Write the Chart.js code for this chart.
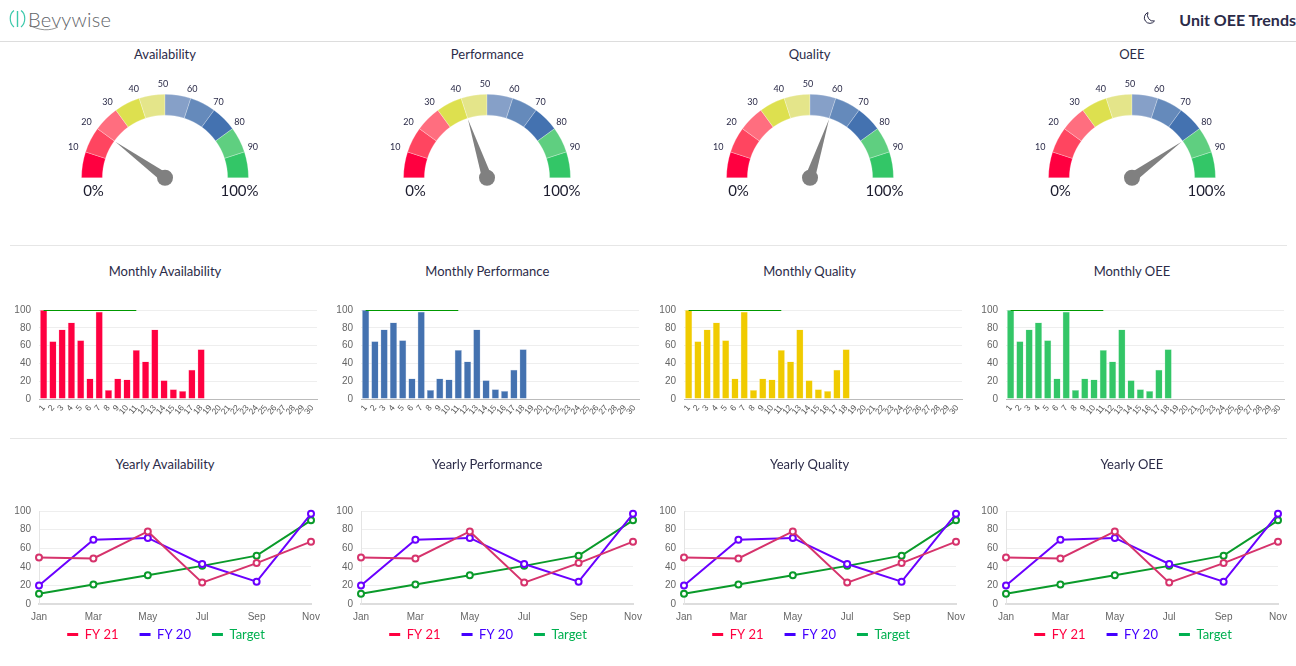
<!DOCTYPE html>
<html>
<head>
<meta charset="utf-8">
<title>Unit OEE Trends</title>
<script src="https://cdn.jsdelivr.net/npm/chart.js@4"></script>
<style>
  html, body { margin: 0; padding: 0; background: #fff; overflow: hidden; }
  body { width: 1296px; height: 666px; position: relative; font-family: Lato, sans-serif; color: #2b2b48; }
  canvas { position: absolute; }
  .title { position: absolute; width: 300px; text-align: center; font-size: 13px; line-height: 18px; }
  .rule { position: absolute; height: 1px; background: #e6e6e6; }
  #logo { position: absolute; left: 28px; top: 7px; font-size: 20px; line-height: 24px; font-family: "Lato"; font-weight: 300; color: #5f6468; letter-spacing: 0.2px; }
  #page { position: absolute; right: 0; top: 10px; font-size: 16px; line-height: 20px; font-weight: 700; white-space: nowrap; }
</style>
</head>
<body>
<svg style="position:absolute;left:8px;top:8px" width="20" height="22" viewBox="0 0 20 22">
  <path d="M6 2.5 C1 6 1 15 6 19 M13 2.5 C18 6 18 15 13 19" fill="none" stroke="#3cc9ab" stroke-width="1.2"/>
  <path d="M9.5 3 V19" stroke="#3cc9ab" stroke-width="1.4"/>
</svg>
<div id="logo">Bevywise</div>
<svg style="position:absolute;left:28px;top:24px" width="60" height="8" viewBox="0 0 60 8">
  <path d="M1 1 C12 7 22 7 30 3" fill="none" stroke="#777" stroke-width="0.8"/>
</svg>
<svg style="position:absolute;left:1143px;top:11px" width="13" height="14" viewBox="0 0 13 14">
  <path d="M5 1.5 A5.6 5.6 0 1 0 11.5 10 A6 6 0 0 1 5 1.5 Z" fill="none" stroke="#2b2b48" stroke-width="1"/>
</svg>
<div id="page">Unit OEE Trends</div>
<div class="rule" style="left:0;top:41px;width:1296px;background:#ddd"></div>
<div class="rule" style="left:10px;top:245px;width:1277px"></div>
<div class="rule" style="left:10px;top:438px;width:1277px"></div>

<script>
// chart data
const gaugeTitles = ["Availability", "Performance", "Quality", "OEE"];
const gaugeValues = [20, 40, 60, 80];
const gaugeBands = [10, 10, 10, 10, 10, 10, 10, 10, 10, 10];
const gaugeTicks = ["10", "20", "30", "40", "50", "60", "70", "80", "90"];
const gaugeColors = ["#ff0040", "#ff4560", "#ff6e7f", "#dde04f", "#e4e58a", "#86a0c8", "#658abb", "#4472b0", "#5fcf80", "#33c667"];

const monthlyTitles = ["Monthly Availability", "Monthly Performance", "Monthly Quality", "Monthly OEE"];
const monthlyColors = ["#ff0040", "#4472b0", "#f0cb00", "#33c667"];
const monthlyEdges = ["#ffb3c6", "#b4c7e0", "#fbeeaa", "#b5ebc8"];
const days = ["1", "2", "3", "4", "5", "6", "7", "8", "9", "10", "11", "12", "13", "14", "15", "16", "17", "18", "19", "20", "21", "22", "23", "24", "25", "26", "27", "28", "29", "30"];
const monthlyValues = [100, 65, 78, 86, 66, 23, 98, 10, 23, 22, 55, 42, 78, 21, 11, 9, 33, 56];
const monthlyTarget = [100, 100, 100, 100, 100, 100, 100, 100, 100, 100, 100];

const yearlyTitles = ["Yearly Availability", "Yearly Performance", "Yearly Quality", "Yearly OEE"];
const months = ["Jan", "Mar", "May", "Jul", "Sep", "Nov"];
const fy21 = [50, 49, 78, 23, 44, 67];
const fy20 = [20, 69, 71, 43, 24, 97];
const target = [11, 21, 31, 41, 52, 90];

const colStep = 322.3;
const tickGrey = "#666";

function addCanvas(left, top, w, h) {
  const c = document.createElement("canvas");
  c.width = w;
  c.height = h;
  c.style.left = left + "px";
  c.style.top = top + "px";
  c.style.width = w + "px";
  c.style.height = h + "px";
  document.body.appendChild(c);
  return c;
}

function addTitle(text, center, top) {
  const d = document.createElement("div");
  d.className = "title";
  d.textContent = text;
  d.style.left = (center - 150) + "px";
  d.style.top = top + "px";
  document.body.appendChild(d);
}

// needle, scale numbers and 0% / 100% on top of the half doughnut
const gaugeOverlay = {
  id: "gaugeOverlay",
  afterDraw(chart, args, opts) {
    const arc = chart.getDatasetMeta(0).data[0];
    const ctx = chart.ctx;
    const cx = arc.x, cy = arc.y, r = arc.outerRadius;
    ctx.save();
    ctx.textAlign = "center";
    ctx.textBaseline = "middle";
    ctx.fillStyle = "#2b2b48";
    ctx.font = "9px Lato";
    gaugeTicks.forEach((t) => {
      const a = Math.PI * (1 - Number(t) / 100);
      ctx.fillText(t, cx - 2 + Math.cos(a) * (r + 11), cy - 2 - Math.sin(a) * (r + 8));
    });
    ctx.font = "15px Lato";
    ctx.fillStyle = "#1c1c2e";
    ctx.fillText("0%", cx - r + 12, cy + 13);
    ctx.fillText("100%", cx + r - 9, cy + 13);

    const a = Math.PI * (1 - opts.value / 100);
    const len = r * 0.735;
    const nx = Math.sin(a) * 5, ny = Math.cos(a) * 5;
    ctx.fillStyle = "#808080";
    ctx.beginPath();
    ctx.moveTo(cx + Math.cos(a) * len, cy - Math.sin(a) * len);
    ctx.lineTo(cx + nx, cy + ny);
    ctx.lineTo(cx - nx, cy - ny);
    ctx.closePath();
    ctx.fill();
    ctx.beginPath();
    ctx.arc(cx, cy, 8, 0, Math.PI * 2);
    ctx.fill();
    ctx.restore();
  }
};

// month labels sit inside the legend's top padding, and the legend is nudged right
const yearlyLayout = {
  id: "yearlyLayout",
  afterLayout(chart) {
    chart.scales.x.bottom = chart.scales.x.top + 22;
    chart.legend.left += 21;
  }
};

function drawGauge(i) {
  const center = 165 + colStep * i;
  addTitle(gaugeTitles[i], center, 45);
  new Chart(addCanvas(center - 120, 60, 240, 150), {
    type: "doughnut",
    data: {
      labels: gaugeBands.map((b, n) => String(n * 10)),
      datasets: [{ data: gaugeBands, backgroundColor: gaugeColors, borderColor: "rgba(255,255,255,0.5)", borderWidth: 0.5 }]
    },
    options: {
      responsive: false,
      animation: false,
      rotation: -90,
      circumference: 180,
      cutout: "75%",
      layout: { padding: { left: 36, right: 36, top: 34, bottom: 32 } },
      plugins: { legend: { display: false }, tooltip: { enabled: false }, gaugeOverlay: { value: gaugeValues[i] } }
    },
    plugins: [gaugeOverlay]
  });
}

function drawMonthly(i) {
  const left = colStep * i;
  addTitle(monthlyTitles[i], 165 + left, 262);
  new Chart(addCanvas(left, 296, 325, 134), {
    type: "bar",
    data: {
      labels: days,
      datasets: [
        { type: "line", data: monthlyTarget, borderColor: "#009900", borderWidth: 2, pointRadius: 0 },
        { data: monthlyValues, backgroundColor: monthlyColors[i], borderColor: monthlyEdges[i], borderWidth: 0.5, categoryPercentage: 0.88, barPercentage: 0.88 }
      ]
    },
    options: {
      responsive: false,
      animation: false,
      layout: { padding: { top: 6, right: 8 } },
      scales: {
        x: {
          afterFit: (s) => { s.height = 31; },
          grid: { display: false, drawTicks: false },
          border: { color: "#bbb" },
          ticks: { autoSkip: false, maxRotation: 50, minRotation: 50, color: "#555", font: { size: 8.5 }, padding: 4 }
        },
        y: {
          min: 0,
          max: 100,
          afterFit: (s) => { s.width = 39; },
          grid: { color: "#eee", drawTicks: false },
          border: { display: false },
          ticks: { stepSize: 20, color: tickGrey, font: { size: 10 }, padding: 8 }
        }
      },
      plugins: { legend: { display: false }, tooltip: { enabled: false } }
    }
  });
}

function legendItems() {
  return [
    { text: "FY 21", fontColor: "#ff0040", strokeStyle: "#ff0040", fillStyle: "#ff0040", lineWidth: 3, pointStyle: "line", datasetIndex: 0 },
    { text: "FY 20", fontColor: "#4400ff", strokeStyle: "#4400ff", fillStyle: "#4400ff", lineWidth: 3, pointStyle: "line", datasetIndex: 1 },
    { text: "Target", fontColor: "#00b050", strokeStyle: "#00b050", fillStyle: "#00b050", lineWidth: 3, pointStyle: "line", datasetIndex: 2 }
  ];
}

function lineSet(values, color) {
  return {
    data: values, borderColor: color, backgroundColor: "#fff", borderWidth: 2,
    pointRadius: 3, pointBorderWidth: 2, pointBorderColor: color, pointBackgroundColor: "#fff", tension: 0, clip: false
  };
}

function drawYearly(i) {
  const left = colStep * i;
  addTitle(yearlyTitles[i], 165 + left, 455);
  new Chart(addCanvas(left, 497, 345, 154), {
    type: "line",
    data: {
      labels: months,
      datasets: [lineSet(fy21, "#d6336c"), lineSet(fy20, "#6a00ff"), lineSet(target, "#0a9a2a")]
    },
    options: {
      responsive: false,
      animation: false,
      layout: { padding: { top: 6, right: 34 } },
      scales: {
        x: {
          afterFit: (s) => { s.height = 3; },
          grid: { display: false, drawTicks: false },
          border: { color: "#ddd", width: 2 },
          ticks: { color: tickGrey, font: { size: 10 }, maxRotation: 0, padding: 7 }
        },
        y: {
          min: 0,
          max: 100,
          afterFit: (s) => { s.width = 39; },
          grid: { color: "#eee", drawTicks: false },
          border: { color: "#e4e4e4" },
          ticks: { stepSize: 20, color: tickGrey, font: { size: 10 }, padding: 8 }
        }
      },
      plugins: {
        tooltip: { enabled: false },
        legend: {
          position: "bottom",
          labels: {
            usePointStyle: true,
            pointStyleWidth: 11,
            boxHeight: 10,
            padding: 21,
            font: { family: "Lato", size: 13 },
            generateLabels: legendItems
          }
        }
      }
    },
    plugins: [yearlyLayout]
  });
}

for (let i = 0; i < 4; i++) {
  drawGauge(i);
  drawMonthly(i);
  drawYearly(i);
}
</script>
</body>
</html>
